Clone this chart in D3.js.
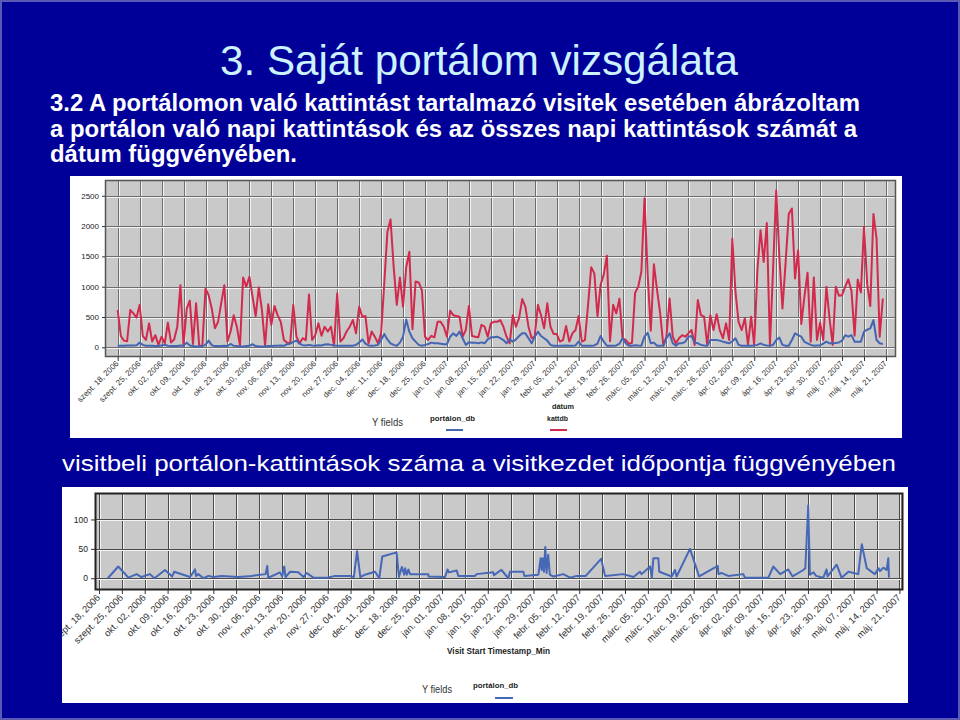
<!DOCTYPE html>
<html><head><meta charset="utf-8">
<script src="https://cdn.jsdelivr.net/npm/d3@7"></script>
<style>body{margin:0;background:#000099}svg{display:block}</style>
</head><body><svg id="c" width="960" height="720"></svg>
<script>
// ---------------- DATA ----------------
const titleText = "3. Saját portálom vizsgálata";
const introLines = [
  "3.2 A portálomon való kattintást tartalmazó visitek esetében ábrázoltam",
  "a portálon való napi kattintások és az összes napi kattintások számát a",
  "dátum függvényében."
];
const captionText = "visitbeli portálon-kattintások száma a visitkezdet időpontja függvényében";
const weekLabels = [
  "szept. 18, 2006","szept. 25, 2006","okt. 02, 2006","okt. 09, 2006","okt. 16, 2006","okt. 23, 2006",
  "okt. 30, 2006","nov. 06, 2006","nov. 13, 2006","nov. 20, 2006","nov. 27, 2006","dec. 04, 2006",
  "dec. 11, 2006","dec. 18, 2006","dec. 25, 2006","jan. 01, 2007","jan. 08, 2007","jan. 15, 2007",
  "jan. 22, 2007","jan. 29, 2007","febr. 05, 2007","febr. 12, 2007","febr. 19, 2007","febr. 26, 2007",
  "márc. 05, 2007","márc. 12, 2007","márc. 19, 2007","márc. 26, 2007","ápr. 02, 2007","ápr. 09, 2007",
  "ápr. 16, 2007","ápr. 23, 2007","ápr. 30, 2007","máj. 07, 2007","máj. 14, 2007","máj. 21, 2007"
];
const startDate = "2006-09-18";           // first daily value / first week label
const chart1YTicks = [0, 500, 1000, 1500, 2000, 2500];
const chart2YTicks = [0, 50, 100];
const seriesNames = ["portálon_db", "kattdb"];

// daily total clicks (kattdb), from 2006-09-18
const kattdb = [
  615,187,110,99,615,560,490,700,190,120,395,95,200,40,175,65,405,80,130,340,
  1025,25,640,770,55,725,25,25,970,860,640,315,420,725,1025,95,260,530,340,25,
  1150,1000,1165,835,515,990,615,25,710,370,680,530,420,120,77,66,700,175,66,150,
  120,870,120,200,395,190,340,260,340,30,890,95,150,260,340,450,230,670,505,515,
  66,260,175,66,230,1050,1900,2110,1330,700,1150,670,1320,1575,300,1085,1070,945,175,120,
  190,165,420,420,340,175,605,530,515,505,175,285,680,185,175,165,370,340,175,395,
  420,420,450,340,175,66,530,340,480,795,670,340,150,175,700,530,315,725,340,220,
  220,95,120,350,95,230,285,515,95,120,700,1320,1220,515,1030,1200,1510,100,700,560,
  800,150,120,60,70,900,1000,1250,2460,1200,275,1370,945,560,27,175,805,175,66,150,
  200,175,230,285,38,780,530,505,38,530,285,545,285,150,395,120,1795,917,420,285,
  480,38,505,27,1270,1930,1410,2050,27,1300,2590,1500,640,1400,2200,2290,1135,1600,385,835,
  1230,93,1150,120,405,120,1000,480,38,1000,850,860,1000,1120,930,190,1120,905,1990,1050,
  680,2200,1795,175,805
];
// daily clicks on the portal (portálon_db), from 2006-09-18
const portalonDb = [
  25,25,25,30,30,30,35,77,40,25,25,25,20,20,30,40,25,20,20,20,
  30,25,77,30,20,15,15,20,40,110,35,20,20,20,25,20,55,25,20,15,
  15,20,25,50,20,15,15,15,20,20,25,25,30,25,50,60,90,110,60,35,
  30,40,30,25,35,30,45,50,40,30,25,25,25,25,25,25,40,80,130,60,
  30,25,30,40,120,220,130,66,40,27,77,175,460,258,150,93,40,27,40,55,
  77,66,66,60,50,50,175,230,187,258,150,40,82,77,77,66,82,66,130,165,
  165,175,150,120,66,130,93,130,187,230,230,150,66,175,258,187,150,110,40,27,
  27,27,27,30,27,27,30,93,27,27,27,27,30,60,187,93,27,27,25,30,
  60,150,66,27,27,35,30,27,175,240,66,77,27,25,30,150,230,66,27,66,
  66,93,175,187,77,66,40,30,27,120,120,120,110,93,80,66,100,150,40,27,
  27,27,27,30,40,66,40,30,27,40,120,160,40,27,27,120,230,200,175,90,
  66,40,27,30,30,60,93,66,66,70,80,110,200,175,200,93,93,93,258,290,
  313,450,120,66,55
];
// per-visit portal clicks: visit start (days after 2006-09-18) and count
const visitDay = [
  2.7,5.9,9,11.5,13,15.6,17,20.2,22.4,23,27.9,29.4,29.7,30.4,32,33.5,35,37.6,42.7,46.7,
  51,51.5,51.8,53.9,55.4,56.1,56.7,57.1,58.5,61,62.6,63.6,65.6,70,72.2,76.8,78,79,80,81.4,
  84.5,85.8,86.7,91.1,91.8,92.7,93.4,93.7,94.2,94.7,95.2,100.8,100.9,105.9,106.7,107.1,109.5,110,115.1,115.6,
  120.7,120.9,122.8,123.2,125.3,125.8,129.9,130.2,134.5,135.2,135.5,135.8,136.2,136.6,137,137.5,138,139.1,142.1,144.2,
  146.2,149,153.7,154.9,160.5,163.6,165.6,166.1,168.7,169.2,169.7,171.2,171.5,175.3,176.3,176.8,180.9,183.7,189.4,189.6,
  190.5,192.6,197.2,197.7,204.9,206.4,208.5,211,212.3,215.6,216.2,217.1,217.6,218.7,219.5,221.7,222.7,223,225.8,227.3,
  229.4,232.4,233.5,235,237.5,238.6,239,240.1,241.1,241.6,241.8
];
const visitPortalon = [
  0,20,1,7,2,7,0,14,3,11,2,15,4,7,0,4,2,4,2,4,
  7,21,1,6,10,3,20,2,11,10,2,9,1,1,4,4,2,46,2,6,
  11,0,37,44,2,19,6,17,6,15,7,7,3,2,15,10,13,4,4,7,
  10,5,13,14,0,11,11,4,6,34,14,34,11,53,9,40,6,3,7,1,
  4,4,33,4,7,2,11,7,20,1,34,34,11,3,14,3,50,3,21,7,
  9,4,7,1,1,20,7,15,3,14,17,124,6,10,4,1,15,3,23,1,
  11,7,58,17,7,17,12,18,14,34,1
];

// ---------------- DRAWING ----------------
const svg = d3.select("#c");
const FONT = "'Liberation Sans', Arial, sans-serif";
const base = d3.utcParse("%Y-%m-%d")(startDate);
const day = n => new Date(base.getTime() + n * 864e5);
const weekDates = weekLabels.map((_, i) => d3.utcDay.offset(base, 7 * i));
const RED = "#d22a4d", BLUE = "#4565b3";

svg.append("rect").attr("width", 960).attr("height", 720).attr("fill", "#000099");
svg.append("rect").attr("x", 1).attr("y", 1).attr("width", 958).attr("height", 718)
  .attr("fill", "none").attr("stroke", "#5a5ab4").attr("stroke-width", 2);

svg.append("text").attr("x", 220).attr("y", 75).attr("font-family", FONT).attr("font-size", 42)
  .attr("fill", "#ccf2ff").attr("textLength", 518).attr("lengthAdjust", "spacingAndGlyphs").text(titleText);

const introW = [810, 807, 247], introY = [111, 136.5, 162];
introLines.forEach((t, i) => {
  svg.append("text").attr("x", 50).attr("y", introY[i]).attr("font-family", FONT).attr("font-size", 24)
    .attr("font-weight", "bold").attr("fill", "#ffffff")
    .attr("textLength", introW[i]).attr("lengthAdjust", "spacingAndGlyphs").text(t);
});
svg.append("text").attr("x", 62).attr("y", 471).attr("font-family", FONT).attr("font-size", 22)
  .attr("fill", "#ffffff").attr("textLength", 834).attr("lengthAdjust", "spacingAndGlyphs").text(captionText);

function panel(cfg) {
  const g = svg.append("g");
  const cid = "clip" + cfg.id;
  svg.append("clipPath").attr("id", cid).append("rect")
    .attr("x", cfg.box[0]).attr("y", cfg.box[1]).attr("width", cfg.box[2]).attr("height", cfg.box[3]);
  g.attr("clip-path", `url(#${cid})`);
  g.append("rect").attr("x", cfg.box[0]).attr("y", cfg.box[1]).attr("width", cfg.box[2]).attr("height", cfg.box[3])
    .attr("fill", "#ffffff");
  const [L, T, R, B] = cfg.plot;
  const x = cfg.x, y = cfg.y;
  g.append("rect").attr("x", L).attr("y", T).attr("width", R - L).attr("height", B - T).attr("fill", "#c9c9c9");
  // grid
  const vx = weekDates.map(d => Math.round(x(d)));
  g.selectAll(null).data(vx).join("line").attr("x1", d => d + 1.5).attr("x2", d => d + 1.5)
    .attr("y1", T).attr("y2", B).attr("stroke", "#f2f2f2").attr("stroke-width", 1);
  g.selectAll(null).data(vx).join("line").attr("x1", d => d + 0.5).attr("x2", d => d + 0.5)
    .attr("y1", T).attr("y2", B).attr("stroke", cfg.gridDark).attr("stroke-width", 1);
  const hy = cfg.yTicks.map(v => Math.round(y(v)));
  g.selectAll(null).data(hy).join("line").attr("y1", d => d + 1.5).attr("y2", d => d + 1.5)
    .attr("x1", L).attr("x2", R).attr("stroke", "#f2f2f2");
  g.selectAll(null).data(hy).join("line").attr("y1", d => d + 0.5).attr("y2", d => d + 0.5)
    .attr("x1", L).attr("x2", R).attr("stroke", cfg.gridDark);
  // lines
  cfg.series.forEach(s => {
    g.append("path").datum(s.values).attr("fill", "none").attr("stroke", s.color)
      .attr("stroke-width", s.width).attr("stroke-linejoin", "round")
      .attr("d", d3.line().x((d, i) => x(s.dates[i])).y(d => y(d)));
  });
  g.append("rect").attr("x", L + 0.5).attr("y", T + 0.5).attr("width", R - L - 1).attr("height", B - T - 1)
    .attr("fill", "none").attr("stroke", cfg.border).attr("stroke-width", cfg.borderW);
  // x axis
  const ax = g.append("g").attr("transform", `translate(0,${B})`)
    .call(d3.axisBottom(x).tickValues(weekDates).tickFormat((d, i) => weekLabels[i]).tickSize(4).tickSizeOuter(0));
  ax.select(".domain").remove();
  ax.selectAll(".tick line").attr("stroke", "#333");
  ax.selectAll("text").attr("font-family", FONT).attr("font-size", cfg.xFont).attr("fill", "#333")
    .attr("text-anchor", "end").attr("x", 0).attr("y", 0).attr("dy", "0.35em")
    .attr("transform", `translate(-1,${cfg.xLabOff}) rotate(-45)`);
  // y axis
  const ay = g.append("g").attr("transform", `translate(${L},0)`)
    .call(d3.axisLeft(y).tickValues(cfg.yTicks).tickFormat(d3.format("d")).tickSize(cfg.yTickSize).tickSizeOuter(0));
  ay.select(".domain").remove();
  ay.selectAll(".tick line").attr("stroke", "#333");
  ay.selectAll("text").attr("font-family", FONT).attr("font-size", cfg.yFont).attr("fill", "#222");
  // texts
  cfg.texts.forEach(t => {
    g.append("text").attr("x", t.x).attr("y", t.y).attr("font-family", FONT).attr("font-size", t.size)
      .attr("font-weight", t.bold ? "bold" : "normal").attr("fill", t.color || "#222")
      .attr("textLength", t.w).attr("lengthAdjust", "spacingAndGlyphs").text(t.text);
  });
  cfg.keys.forEach(k => {
    g.append("line").attr("x1", k.x1).attr("x2", k.x2).attr("y1", k.y).attr("y2", k.y)
      .attr("stroke", k.color).attr("stroke-width", 2);
  });
}

const dailyDates = kattdb.map((_, i) => day(i));
const x1 = d3.scaleUtc().domain([day(-4.05), day(248.2)]).range([105, 896]);
const y1 = d3.scaleLinear().domain([-160, 2760]).range([357, 180]);
panel({
  id: 1, box: [70, 176, 832, 262], plot: [105, 180, 896, 357], x: x1, y: y1,
  yTicks: chart1YTicks, gridDark: "#6e6e6e", border: "#555", borderW: 1.5,
  xFont: 8, xLabOff: 5, yFont: 8, yTickSize: 3,
  series: [
    { values: kattdb, dates: dailyDates, color: RED, width: 2 },
    { values: portalonDb, dates: dailyDates, color: BLUE, width: 2 }
  ],
  texts: [
    { text: "dátum", x: 552, y: 409, size: 7.5, bold: true, w: 22 },
    { text: "Y fields", x: 372, y: 426, size: 10, w: 31, color: "#333" },
    { text: seriesNames[0], x: 430, y: 421, size: 7.5, bold: true, w: 45 },
    { text: seriesNames[1], x: 547, y: 421, size: 7.5, bold: true, w: 21 }
  ],
  keys: [
    { x1: 446, x2: 463, y: 430, color: BLUE },
    { x1: 550, x2: 567, y: 430, color: RED }
  ]
});

const x2 = d3.scaleUtc().domain([day(-1.22), day(246.1)]).range([95, 903]);
const y2 = d3.scaleLinear().domain([-20, 145]).range([590, 493]);
panel({
  id: 2, box: [62, 487, 846, 216], plot: [95, 493, 903, 590], x: x2, y: y2,
  yTicks: chart2YTicks, gridDark: "#4a4a4a", border: "#222", borderW: 2,
  xFont: 9.5, xLabOff: 6, yFont: 8.5, yTickSize: 4,
  series: [
    { values: visitPortalon, dates: visitDay.map(day), color: "#4767b7", width: 2 }
  ],
  texts: [
    { text: "Visit Start Timestamp_Min", x: 447, y: 654, size: 8.2, bold: true, w: 103 },
    { text: "Y fields", x: 422, y: 693, size: 10, w: 30, color: "#333" },
    { text: seriesNames[0], x: 473, y: 688, size: 7.5, bold: true, w: 45 }
  ],
  keys: [{ x1: 495, x2: 513, y: 698, color: "#4767b7" }]
});
</script></body></html>
